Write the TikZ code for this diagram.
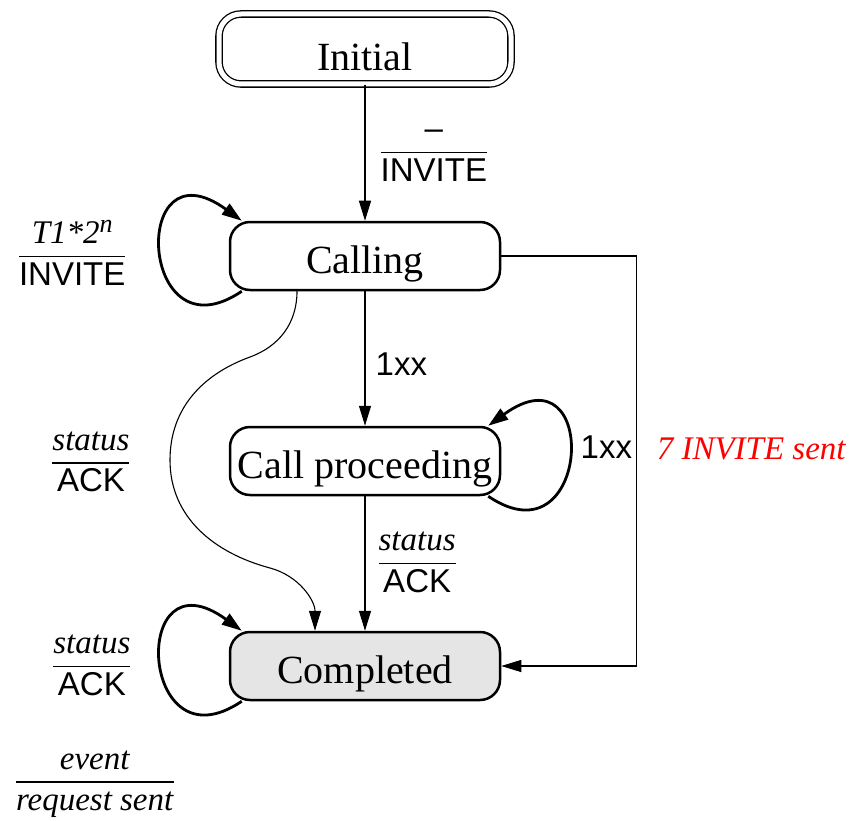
\documentclass[tikz,border=0pt]{standalone}
\usepackage{fontspec}
\setmainfont{Liberation Serif}
\setsansfont{Liberation Sans}
\usetikzlibrary{shapes,arrows.meta,positioning}

\newcommand{\evfrac}[2]{{\setlength{\arrayrulewidth}{1.5pt}\begin{tabular}{@{}c@{}}#1\\\hline #2\end{tabular}}}

\begin{document}
\begin{tikzpicture}[x=1pt, y=-1pt, node distance=205pt, on grid]
% Define styles
\tikzstyle{state} = [rectangle, rounded corners=20pt, minimum width=270pt, minimum height=68pt, text centered, text height=34pt, text depth=0pt, draw=black, line width=2.5pt, font=\fontsize{40}{48}\selectfont]
\tikzstyle{initstate} = [state, rounded corners=22pt, double, double distance=5pt, line width=1.3pt, minimum width=292pt, minimum height=70pt, text height=44pt]
\tikzstyle{evlabel} = [font=\fontsize{33}{40}\selectfont, inner sep=0pt]
\tikzstyle{arrow} = [line width=1.3pt, -{Triangle[length=20pt,width=12pt]}]
\tikzstyle{loopy} = [line width=2.8pt, -{Triangle[length=20pt,width=13pt]}]

\useasboundingbox (0,0) rectangle (851,821);

% Draw nodes
\node (initial) [initstate] at (365,49) {Initial};
\node (calling) [state, below=207pt of initial] {Calling};
\node (proceeding) [state, below=of calling] {Call proceeding};
\node (completed) [state, fill=gray!20, below=of proceeding] {Completed};
\node (legend) [evlabel] at (95,782) {\evfrac{\textit{event}}{\textit{request sent}}};

% Draw arrows
\draw [arrow] (initial) -- node[evlabel, anchor=west, xshift=15pt] {\evfrac{\sffamily –}{\sffamily INVITE}} (calling);
\draw [arrow] (calling) -- node[evlabel, anchor=west, xshift=10pt, yshift=-6pt] {\sffamily 1xx} (proceeding);
\draw [arrow] (proceeding) -- node[evlabel, anchor=west, xshift=13pt] {\evfrac{\textit{status}}{\sffamily ACK}} (completed);
\draw [arrow, line width=1.1pt] (calling.east) -- ++(135,0) |- node[pos=0.25, evlabel, anchor=west, xshift=20pt, yshift=12pt, text=red] {\textit{7 INVITE sent}} (completed.east);
\draw [arrow, line width=1.1pt] ([xshift=-68pt]calling.south) to[out=-90,in=20] (250,357) to[out=200,in=90] (170,460) node[evlabel, anchor=east, xshift=-40pt, yshift=-3pt] {\evfrac{\textit{status}}{\sffamily ACK}} to[out=-90,in=165] (270,568) to[out=-15,in=90] ([xshift=-50pt]completed.north);

% Self loops
\draw [loopy] ([xshift=13pt]calling.south west) .. controls +(-103,70) and +(-113,-82) .. node[evlabel, anchor=east, xshift=-34pt, yshift=-5pt] {\evfrac{\textit{T1*2}\raisebox{11pt}{\fontsize{26}{30}\selectfont\textit{n}}}{\sffamily INVITE}} ([xshift=13pt]calling.north west);
\draw [loopy] ([xshift=-13pt]proceeding.south east) .. controls +(103,70) and +(113,-82) .. node[evlabel, anchor=west, xshift=10pt, yshift=9pt] {\sffamily 1xx} ([xshift=-13pt]proceeding.north east);
\draw [loopy] ([xshift=13pt]completed.south west) .. controls +(-103,70) and +(-113,-82) .. node[evlabel, anchor=east, xshift=-29pt, yshift=-5pt] {\evfrac{\textit{status}}{\sffamily ACK}} ([xshift=13pt]completed.north west);
\end{tikzpicture}
\end{document}
